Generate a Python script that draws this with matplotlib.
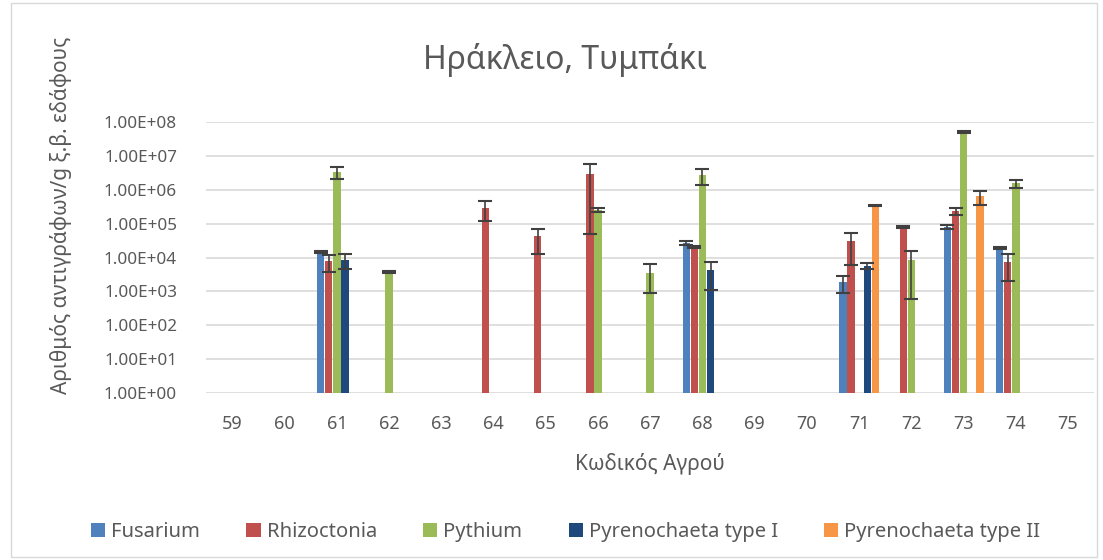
import matplotlib.pyplot as plt
import numpy as np
from matplotlib.patches import Rectangle
from matplotlib.ticker import FixedLocator, FuncFormatter, NullLocator

plt.rcParams['font.family'] = ['Noto Sans', 'DejaVu Sans']

nan = np.nan
fields = list(range(59, 76))
series = ['Fusarium', 'Rhizoctonia', 'Pythium', 'Pyrenochaeta type I', 'Pyrenochaeta type II']
colors = ['#4F81BD', '#C0504D', '#9BBB59', '#1F497D', '#F79646']

#            59   60   61      62     63   64     65     66      67     68      69   70   71     72     73     74     75
fusarium = [nan, nan, 1.5e4, nan, nan, nan, nan, nan, nan, 2.7e4, nan, nan, 1.9e3, nan, 8.1e4, 1.9e4, nan]
fusarium_err = [nan, nan, 1.2e3, nan, nan, nan, nan, nan, nan, 3e3, nan, nan, 1e3, nan, 1e4, 1e3, nan]
rhizoctonia = [nan, nan, 8e3, nan, nan, 2.9e5, 4.2e4, 2.85e6, nan, 2.1e4, nan, nan, 3.0e4, 8.1e4, 2.4e5, 7.3e3, nan]
rhizoctonia_err = [nan, nan, 4.2e3, nan, nan, 1.7e5, 2.9e4, 2.8e6, nan, 1.5e3, nan, nan, 2.4e4, 5e3, 5.5e4, 5.3e3, nan]
pythium = [nan, nan, 3.4e6, 3.8e3, nan, nan, nan, 2.6e5, 3.6e3, 2.8e6, nan, nan, nan, 8.3e3, 5.1e7, 1.55e6, nan]
pythium_err = [nan, nan, 1.3e6, 3e2, nan, nan, nan, 4e4, 2.7e3, 1.4e6, nan, nan, nan, 7.7e3, 3e6, 4e5, nan]
pyr1 = [nan, nan, 8.5e3, nan, nan, nan, nan, nan, nan, 4.3e3, nan, nan, 5.8e3, nan, nan, nan, nan]
pyr1_err = [nan, nan, 4e3, nan, nan, nan, nan, nan, nan, 3.2e3, nan, nan, 1.2e3, nan, nan, nan, nan]
pyr2 = [nan, nan, nan, nan, nan, nan, nan, nan, nan, nan, nan, nan, 3.5e5, nan, 6.5e5, nan, nan]
pyr2_err = [nan, nan, nan, nan, nan, nan, nan, nan, nan, nan, nan, nan, 1e4, nan, 3e5, nan, nan]

values = [fusarium, rhizoctonia, pythium, pyr1, pyr2]
errors = [fusarium_err, rhizoctonia_err, pythium_err, pyr1_err, pyr2_err]

grey = '#595959'
fig = plt.figure(figsize=(11.03, 5.60), dpi=100)
ax = fig.add_axes([0.187, 0.298, 0.805, 0.484])
ax.set_yscale('log')

x = np.array(fields)
w = 0.155
for i, (name, v, e, c) in enumerate(zip(series, values, errors, colors)):
    xs = x + (i - 2) * w
    ax.bar(xs, v, width=w * 0.92, color=c, label=name, zorder=2)
    ax.errorbar(xs, v, yerr=e, fmt='none', ecolor='#404040', elinewidth=1.2,
                capsize=5, capthick=1.5, zorder=3)

ax.set_xlim(58.5, 75.5)
ax.set_ylim(1, 1e8)
ax.set_xticks(fields)
ax.set_xticklabels([str(f) for f in fields])
ax.yaxis.set_major_locator(FixedLocator([10.0 ** k for k in range(9)]))
ax.yaxis.set_minor_locator(NullLocator())
ax.yaxis.set_major_formatter(FuncFormatter(lambda v, p: f'{v:.2E}'))
ax.grid(axis='y', color='#D9D9D9', linewidth=1.2, zorder=0)
ax.set_axisbelow(True)
for s in ax.spines.values():
    s.set_visible(False)
ax.tick_params(axis='both', length=0, labelsize=13, colors=grey)
ax.tick_params(axis='y', labelsize=12.3, pad=21)
ax.tick_params(axis='x', pad=16)

ax.set_xlabel('Κωδικός Αγρού', fontsize=15, color=grey, labelpad=14)
fig.text(0.055, 0.615, 'Αριθμός αντιγράφων/g ξ.β. εδάφους', rotation=90,
         ha='center', va='center', fontsize=15, color=grey)
fig.text(0.512, 0.893, 'Ηράκλειο, Τυμπάκι', ha='center', va='center',
         fontsize=23, color=grey)

fig.legend(loc='center', bbox_to_anchor=(0.513, 0.05), ncol=5, frameon=False,
           fontsize=14.5, labelcolor=grey, handlelength=0.7, handleheight=0.7,
           handletextpad=0.3, columnspacing=2.3)

fig.patches.append(Rectangle((0.01, 0.005), 0.985, 0.99, transform=fig.transFigure,
                             fill=False, edgecolor='#D9D9D9', linewidth=1))

fig.savefig('out.png', dpi=100)
